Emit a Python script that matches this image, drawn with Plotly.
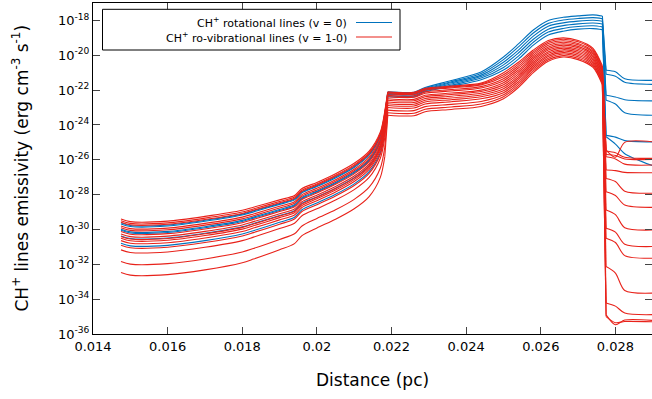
import plotly.graph_objects as go

# distance grid (pc)
distance_pc = [0.01475, 0.0150, 0.0160, 0.0170, 0.0180, 0.0183, 0.0190, 0.0194, 0.0196, 0.0200,
               0.0205, 0.0210, 0.0214, 0.0217, 0.02182,
               0.0219, 0.0226, 0.0229, 0.0236, 0.0244, 0.0250, 0.0254, 0.0258, 0.0262, 0.0266,
               0.0270, 0.0274, 0.02765,
               0.02775, 0.0280, 0.02825, 0.0290]

# log10 emissivity, CH+ rotational lines (v = 0)
rot_1 = [-29.62, -29.77, -29.74, -29.47, -29.12, -28.93, -28.51, -28.25, -27.84, -27.49, -26.99, -26.39, -25.69, -24.59, -23.39,
         -22.10, -22.12, -21.85, -21.45, -20.96, -20.10, -19.35, -18.55, -18.00, -17.82, -17.74, -17.68, -17.75,
         -20.86, -20.95, -21.35, -21.44]
rot_2 = [-29.68, -29.83, -29.80, -29.53, -29.17, -28.99, -28.56, -28.30, -27.90, -27.54, -27.04, -26.44, -25.74, -24.64, -23.44,
         -22.14, -22.16, -21.90, -21.52, -21.05, -20.25, -19.52, -18.72, -18.17, -17.98, -17.89, -17.84, -17.90,
         -21.09, -21.20, -21.55, -21.67]
rot_3 = [-29.99, -30.14, -30.11, -29.84, -29.48, -29.29, -28.85, -28.58, -28.17, -27.80, -27.30, -26.70, -26.00, -24.90, -23.70,
         -22.20, -22.22, -21.95, -21.58, -21.14, -20.40, -19.70, -18.90, -18.33, -18.14, -18.04, -17.99, -18.05,
         -22.30, -22.40, -22.55, -22.62]
rot_4 = [-30.05, -30.20, -30.17, -29.90, -29.54, -29.35, -28.91, -28.64, -28.22, -27.85, -27.35, -26.75, -26.05, -24.95, -23.75,
         -22.25, -22.27, -22.00, -21.65, -21.22, -20.55, -19.87, -19.08, -18.50, -18.30, -18.20, -18.15, -18.21,
         -22.58, -22.80, -23.30, -23.44]
rot_5 = [-30.37, -30.52, -30.49, -30.22, -29.85, -29.66, -29.20, -28.92, -28.50, -28.13, -27.63, -27.03, -26.33, -25.23, -24.03,
         -22.32, -22.34, -22.05, -21.72, -21.31, -20.70, -20.05, -19.25, -18.67, -18.46, -18.35, -18.31, -18.37,
         -24.60, -24.70, -24.90, -24.97]
rot_6 = [-30.79, -30.94, -30.91, -30.64, -30.26, -30.07, -29.59, -29.30, -28.87, -28.48, -27.98, -27.38, -26.68, -25.58, -24.38,
         -22.38, -22.40, -22.10, -21.78, -21.40, -20.85, -20.22, -19.42, -18.84, -18.62, -18.50, -18.47, -18.53,
         -24.68, -25.10, -25.65, -26.34]

# log10 emissivity, CH+ ro-vibrational lines (v = 1-0)
vib_1 = [-29.40, -29.55, -29.52, -29.25, -28.90, -28.72, -28.30, -28.05, -27.65, -27.30, -26.80, -26.20, -25.50, -24.40, -23.20,
         -22.10, -22.13, -21.90, -21.77, -21.60, -21.00, -20.40, -19.70, -19.15, -19.00, -19.15, -19.60, -20.60,
         -25.44, -25.85, -25.00, -24.97]
vib_2 = [-29.50, -29.65, -29.62, -29.35, -29.00, -28.82, -28.39, -28.14, -27.74, -27.39, -26.89, -26.29, -25.59, -24.49, -23.29,
         -22.15, -22.18, -21.95, -21.82, -21.65, -21.12, -20.51, -19.80, -19.24, -19.08, -19.23, -19.68, -20.68,
         -25.50, -25.60, -25.85, -25.92]
vib_3 = [-29.58, -29.73, -29.70, -29.43, -29.08, -28.90, -28.47, -28.21, -27.81, -27.45, -26.95, -26.35, -25.65, -24.55, -23.35,
         -22.20, -22.23, -22.00, -21.87, -21.70, -21.23, -20.62, -19.90, -19.33, -19.17, -19.32, -19.77, -20.77,
         -25.70, -25.75, -25.95, -25.98]
vib_4 = [-29.80, -29.95, -29.92, -29.65, -29.29, -29.11, -28.67, -28.41, -28.00, -27.64, -27.14, -26.54, -25.84, -24.74, -23.54,
         -22.30, -22.33, -22.10, -21.97, -21.80, -21.35, -20.73, -20.00, -19.43, -19.25, -19.40, -19.85, -20.85,
         -25.83, -25.95, -26.25, -26.30]
vib_5 = [-29.90, -30.05, -30.02, -29.75, -29.39, -29.21, -28.77, -28.50, -28.09, -27.73, -27.23, -26.63, -25.93, -24.83, -23.63,
         -22.38, -22.41, -22.18, -22.05, -21.88, -21.46, -20.85, -20.10, -19.52, -19.34, -19.49, -19.94, -20.94,
         -26.59, -26.62, -26.72, -26.74]
vib_6 = [-30.12, -30.27, -30.24, -29.97, -29.61, -29.42, -28.97, -28.70, -28.28, -27.91, -27.41, -26.81, -26.11, -25.01, -23.81,
         -22.50, -22.53, -22.30, -22.17, -22.00, -21.58, -20.96, -20.20, -19.61, -19.42, -19.57, -20.02, -21.02,
         -27.07, -27.25, -27.80, -27.92]
vib_7 = [-30.26, -30.41, -30.38, -30.11, -29.74, -29.55, -29.10, -28.82, -28.41, -28.03, -27.53, -26.93, -26.23, -25.13, -23.93,
         -22.58, -22.61, -22.38, -22.25, -22.08, -21.69, -21.07, -20.30, -19.70, -19.51, -19.66, -20.11, -21.11,
         -27.83, -28.05, -28.60, -28.73]
vib_8 = [-30.40, -30.55, -30.52, -30.25, -29.88, -29.69, -29.23, -28.95, -28.53, -28.15, -27.65, -27.05, -26.35, -25.25, -24.05,
         -22.68, -22.71, -22.48, -22.35, -22.18, -21.81, -21.18, -20.40, -19.80, -19.59, -19.74, -20.19, -21.19,
         -28.88, -29.15, -29.90, -30.03]
vib_9 = [-30.50, -30.65, -30.62, -30.35, -29.98, -29.79, -29.32, -29.04, -28.62, -28.24, -27.74, -27.14, -26.44, -25.34, -24.14,
         -22.78, -22.81, -22.58, -22.45, -22.28, -21.92, -21.29, -20.50, -19.89, -19.68, -19.83, -20.28, -21.28,
         -29.93, -30.15, -30.85, -30.98]
vib_10 = [-30.64, -30.79, -30.76, -30.49, -30.12, -29.92, -29.45, -29.17, -28.74, -28.35, -27.85, -27.25, -26.55, -25.45, -24.25,
          -22.88, -22.91, -22.68, -22.55, -22.38, -22.04, -21.40, -20.60, -19.98, -19.76, -19.91, -20.36, -21.36,
          -30.50, -30.75, -31.50, -31.65]
vib_11 = [-30.90, -31.05, -31.02, -30.75, -30.37, -30.18, -29.70, -29.40, -28.97, -28.58, -28.08, -27.48, -26.78, -25.68, -24.48,
          -23.00, -23.03, -22.80, -22.67, -22.50, -22.15, -21.52, -20.70, -20.07, -19.85, -20.00, -20.45, -21.45,
          -32.13, -32.50, -33.50, -33.65]
vib_12 = [-31.17, -31.32, -31.29, -31.02, -30.64, -30.44, -29.95, -29.64, -29.21, -28.81, -28.31, -27.71, -27.01, -25.91, -24.71,
          -23.15, -23.18, -22.95, -22.82, -22.65, -22.27, -21.63, -20.80, -20.17, -19.93, -20.08, -20.53, -21.53,
          -34.22, -34.40, -34.80, -34.89]
vib_13 = [-31.84, -31.99, -31.96, -31.69, -31.29, -31.09, -30.57, -30.25, -29.80, -29.37, -28.87, -28.27, -27.57, -26.47, -25.27,
          -23.30, -23.33, -23.10, -22.97, -22.80, -22.38, -21.74, -20.90, -20.26, -20.02, -20.17, -20.62, -21.62,
          -34.90, -35.47, -35.20, -35.22]
vib_14 = [-32.47, -32.62, -32.59, -32.32, -31.91, -31.70, -31.16, -30.81, -30.35, -29.91, -29.41, -28.81, -28.11, -27.01, -25.81,
          -23.44, -23.47, -23.24, -23.11, -22.94, -22.50, -21.85, -21.00, -20.35, -20.10, -20.25, -20.70, -21.70,
          -35.00, -35.35, -35.28, -35.30]

rot_lines = [rot_1, rot_2, rot_3, rot_4, rot_5, rot_6]
vib_lines = [vib_1, vib_2, vib_3, vib_4, vib_5, vib_6, vib_7, vib_8, vib_9, vib_10, vib_11, vib_12, vib_13, vib_14]

x_ticks = [0.014, 0.016, 0.018, 0.020, 0.022, 0.024, 0.026, 0.028]
x_ticklabels = ["0.014", "0.016", "0.018", "0.02", "0.022", "0.024", "0.026", "0.028"]
y_exponents = [-36, -34, -32, -30, -28, -26, -24, -22, -20, -18]

legend_labels = ["CH<sup>+</sup> rotational lines (v = 0)", "CH<sup>+</sup> ro-vibrational lines (v = 1-0)"]

BLUE = "#0072bd"
RED = "#e8221a"
FONT = "DejaVu Sans"

# pieces of each curve: smooth stretches joined by the two sharp fronts
smooth_parts = [(0, 15), (15, 28), (28, 32)]
sharp_parts = [(14, 16), (27, 29)]

fig = go.Figure()


def add_curve(vals, color):
    ys = [10 ** v for v in vals]
    for a, b in sharp_parts:
        fig.add_trace(go.Scatter(x=distance_pc[a:b], y=ys[a:b], mode="lines",
                                 line=dict(color=color, width=1.1), showlegend=False, hoverinfo="skip"))
    for a, b in smooth_parts:
        fig.add_trace(go.Scatter(x=distance_pc[a:b], y=ys[a:b], mode="lines",
                                 line=dict(color=color, width=1.1, shape="spline", smoothing=0.8),
                                 showlegend=False, hoverinfo="skip"))


for ln in rot_lines:
    add_curve(ln, BLUE)
for ln in vib_lines:
    add_curve(ln, RED)

W, H = 652, 399
L, R, T, B = 93, 0, 3, 65
pw, ph = W - L - R, H - T - B


def px(xp):
    return (xp - L) / pw


def py(yp):
    return (H - B - yp) / ph


# manual gnuplot-style legend (text right-justified, sample on the right)
shapes = [dict(type="rect", xref="paper", yref="paper", x0=px(102.5), x1=px(400), y0=py(50), y1=py(9.3),
               line=dict(color="black", width=1), fillcolor="white", layer="above")]
annotations = []
for i, (lab, col) in enumerate(zip(legend_labels, [BLUE, RED])):
    yc = 22.5 + i * 14.5
    annotations.append(dict(text=lab, xref="paper", yref="paper", x=px(349), y=py(yc), xanchor="right",
                            yanchor="middle", showarrow=False, font=dict(family=FONT, size=11, color="black")))
    shapes.append(dict(type="line", xref="paper", yref="paper", x0=px(356), x1=px(392), y0=py(yc), y1=py(yc),
                       line=dict(color=col, width=1.1), layer="above"))

annotations.append(dict(text="Distance (pc)", xref="paper", yref="paper", x=0.5, y=py(380), xanchor="center",
                        yanchor="middle", showarrow=False, font=dict(family=FONT, size=17, color="black")))
annotations.append(dict(text="CH<sup>+</sup> lines emissivity (erg cm<sup>-3</sup> s<sup>-1</sup>)", xref="paper",
                        yref="paper", x=px(20), y=py(168.5), xanchor="center", yanchor="middle", textangle=-90,
                        showarrow=False, font=dict(family=FONT, size=17, color="black")))

fig.update_layout(
    width=W, height=H, margin=dict(l=L, r=R, t=T, b=B),
    paper_bgcolor="white", plot_bgcolor="white",
    font=dict(family=FONT, size=13, color="black"),
    shapes=shapes, annotations=annotations, showlegend=False,
    xaxis=dict(range=[0.014, 0.02898], tickvals=x_ticks, ticktext=x_ticklabels, ticks="inside", ticklen=7,
               tickcolor="#444", showline=True, linecolor="black", linewidth=1, mirror="ticks", showgrid=False,
               zeroline=False, tickfont=dict(family=FONT, size=13)),
    yaxis=dict(type="log", range=[-36, -17], tickvals=[10 ** e for e in y_exponents],
               ticktext=["10<sup>%d</sup>" % e for e in y_exponents], ticks="inside", ticklen=7, tickcolor="#444",
               showline=True, linecolor="black", linewidth=1, mirror="ticks", showgrid=False, zeroline=False,
               tickfont=dict(family=FONT, size=13)),
)

fig.write_html("out.html")
